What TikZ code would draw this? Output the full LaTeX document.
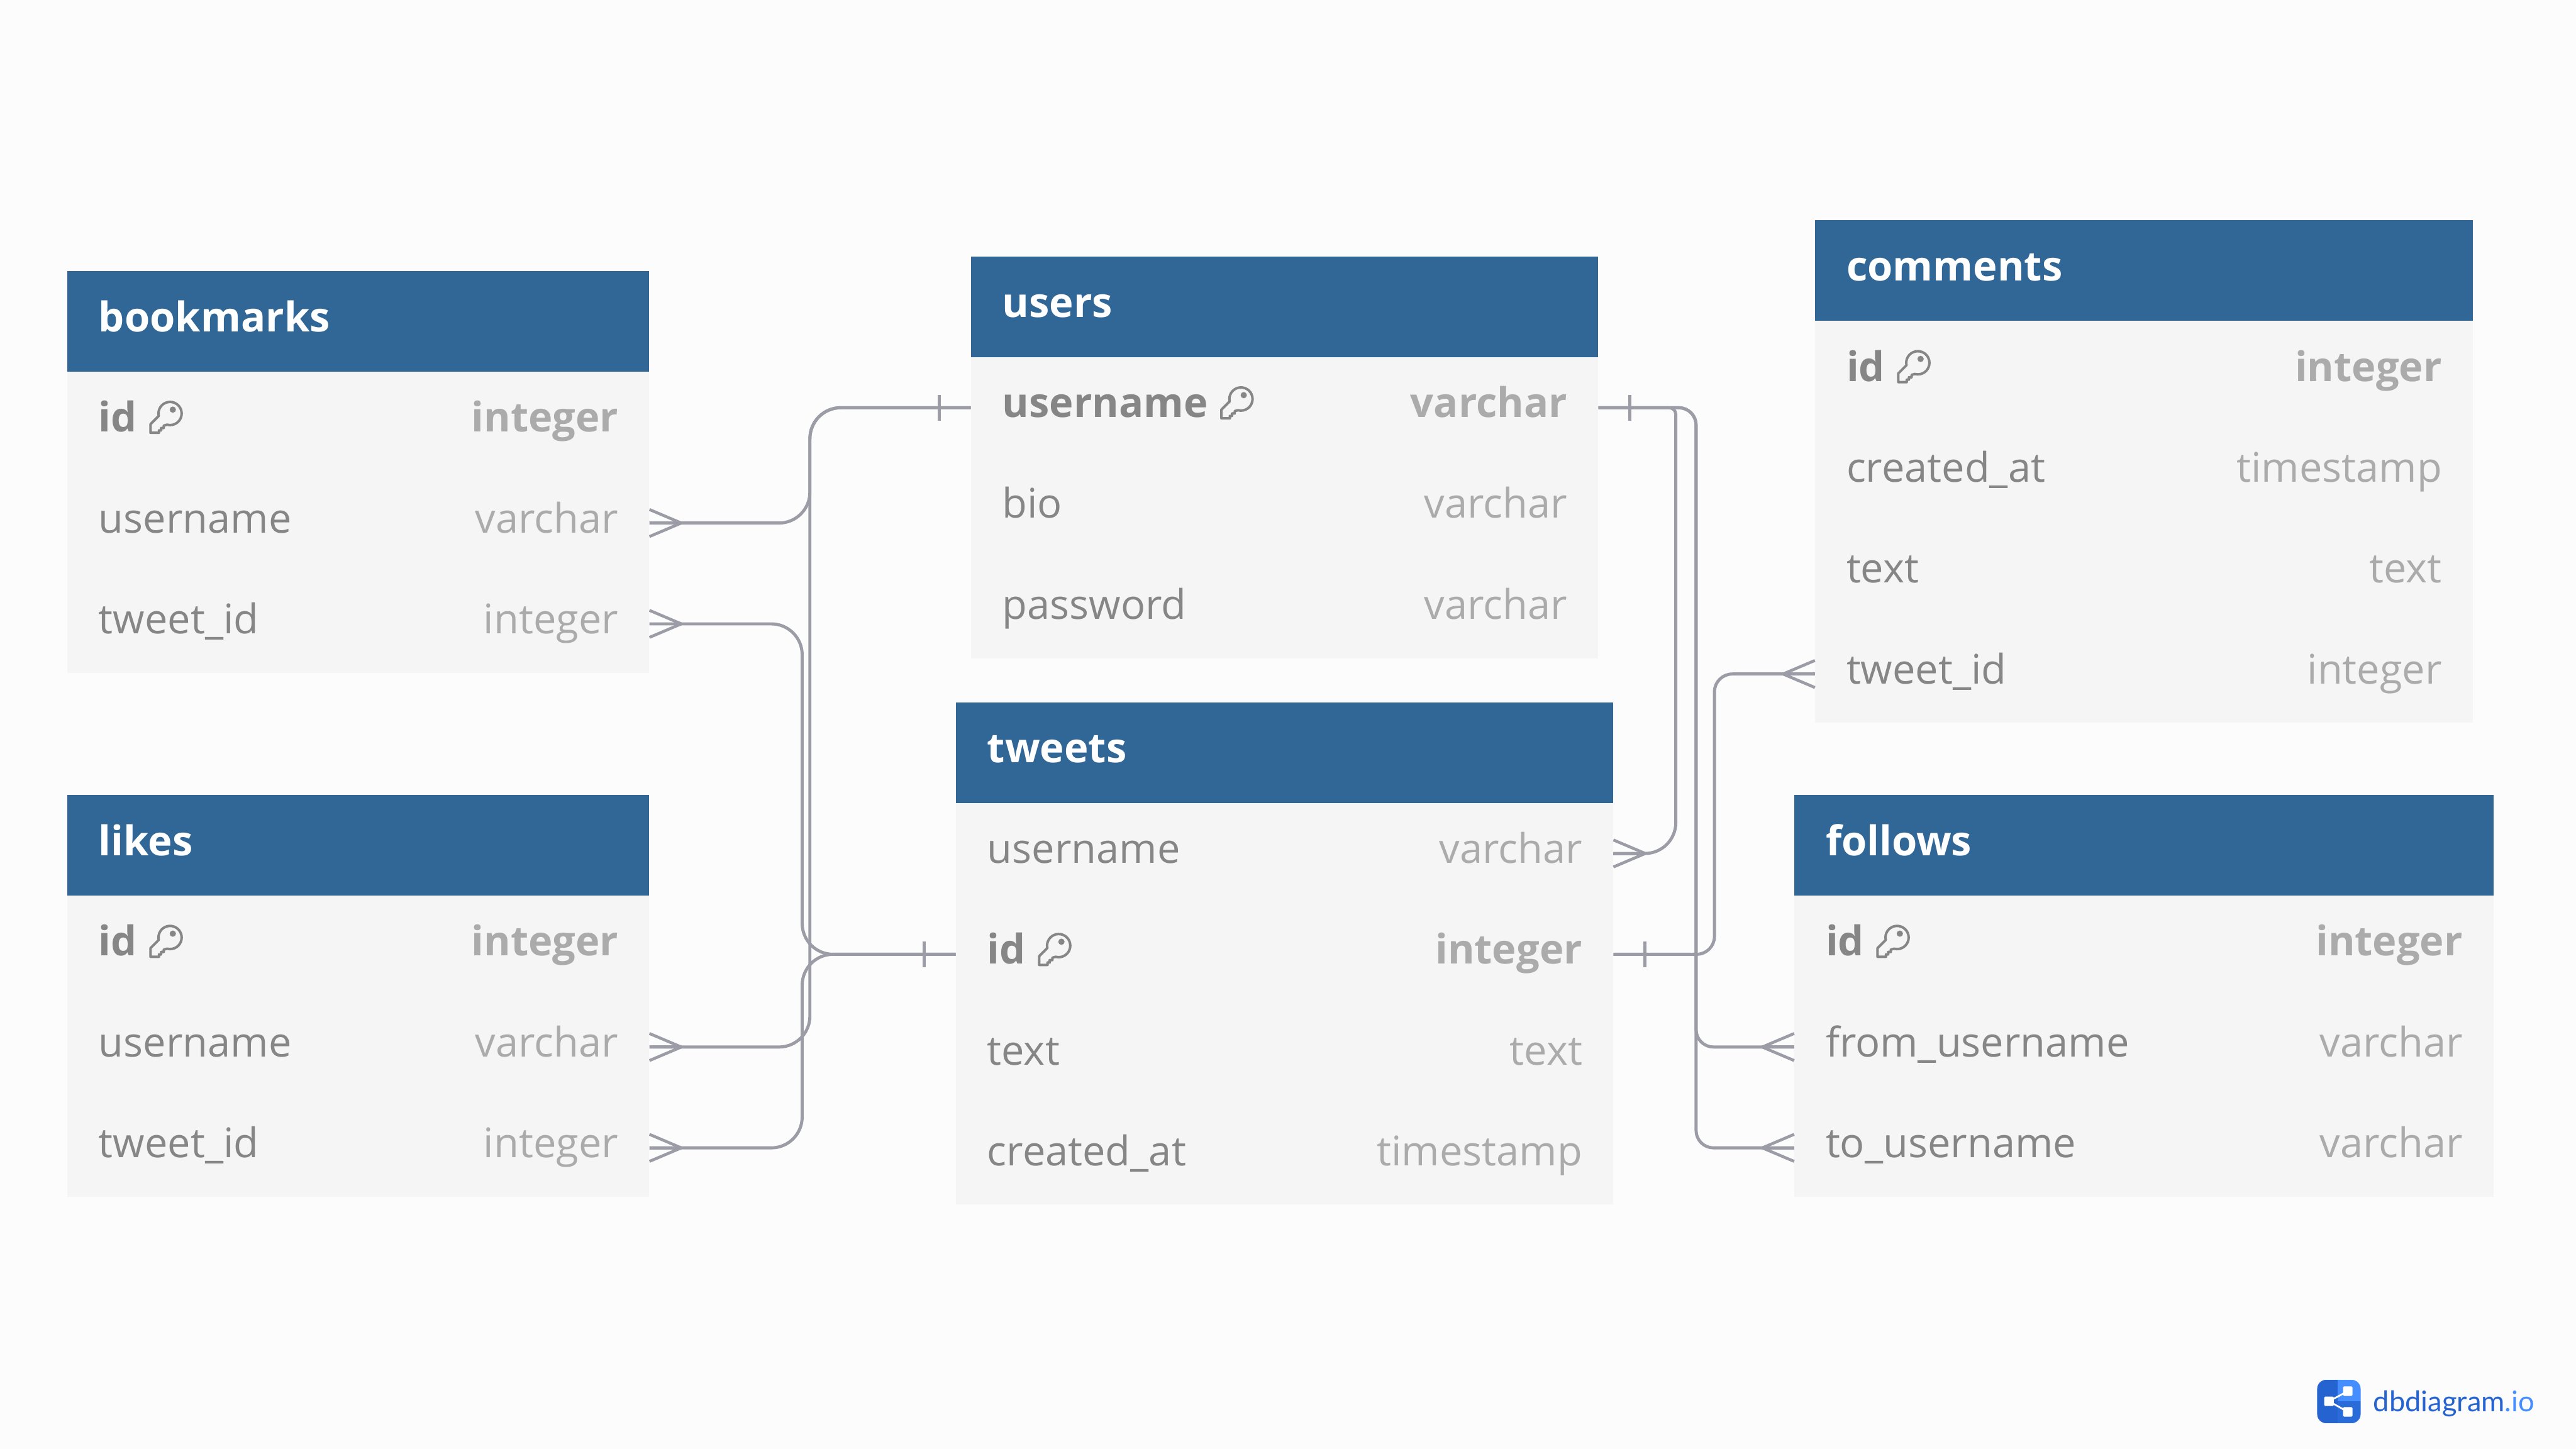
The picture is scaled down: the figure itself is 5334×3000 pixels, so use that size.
\documentclass[tikz,border=0pt]{standalone}
\usepackage{fontspec}
\setmainfont{Open Sans}
\newfontfamily\logofont{Lato}
\definecolor{bgc}{HTML}{FCFCFC}
\definecolor{headc}{HTML}{316796}
\definecolor{bodyc}{HTML}{F5F5F5}
\definecolor{fieldc}{HTML}{868686}
\definecolor{typec}{HTML}{ABABAB}
\definecolor{linec}{HTML}{9B9CA5}
\definecolor{logod}{HTML}{2563D0}
\definecolor{logom}{HTML}{2A6BDA}
\definecolor{logol}{HTML}{458EFF}
\tikzset{
  headbox/.style={fill=headc,draw=none,inner sep=0pt,minimum height=104pt,anchor=north west},
  bodybox/.style={fill=bodyc,draw=none,inner sep=0pt,anchor=north west},
  rowbox/.style={draw=none,fill=none,inner sep=0pt,minimum height=104pt,anchor=north west},
  titletxt/.style={inner sep=0pt,anchor=base west,text=white,font=\fontsize{42.4}{50}\selectfont\bfseries},
  fieldtxt/.style={inner sep=0pt,anchor=base west,text=fieldc,font=\fontsize{42.3}{50}\selectfont},
  typetxt/.style={inner sep=0pt,anchor=base east,text=typec,font=\fontsize{42.3}{50}\selectfont},
  pkfield/.style={fieldtxt,font=\fontsize{42.3}{50}\selectfont\bfseries},
  pktype/.style={typetxt,font=\fontsize{42.3}{50}\selectfont\bfseries},
  rel/.style={draw=linec,line width=3.2pt,line cap=butt,line join=round},
  relmark/.style={draw=linec,line width=3pt,line cap=butt},
  keyicon/.pic={
    \draw[draw=fieldc,line width=2.6pt,line join=round]
      (2.5,48) -- (19.5,31) arc[start angle=168,end angle=465,radius=24]
      -- (30,51) -- (30,56) -- (24.5,56) -- (24.5,61) -- (20,61) -- (20,66) -- (2.5,66) -- cycle;
    \fill[fieldc] (48.7,18) circle[radius=6.5];
  }
}
% table frame: id, x, y, width, title, number of rows
\newcommand{\dbtable}[6]{%
  \def\tw{#4*0.5pt}%
  \node[bodybox,minimum width=\tw,minimum height=#6*104pt] (#1-body) at (#2,#3+208) {};
  \node[headbox,minimum width=\tw] (#1) at (#2,#3) {};
  \node[titletxt] (#1-title) at ([xshift=32.5pt,yshift=-10.5pt]#1.west) {#5};
}
\newcommand{\trow}[4]{%
  \node[rowbox,minimum width=\tw] (#1) at (#2.south west) {};
  \node[fieldtxt] (#1-f) at ([xshift=32.5pt,yshift=-10pt]#1.west) {#3};
  \node[typetxt] (#1-t) at ([xshift=-32pt,yshift=-10pt]#1.east) {#4};
}
\newcommand{\pkrow}[4]{%
  \node[rowbox,minimum width=\tw] (#1) at (#2.south west) {};
  \node[pkfield] (#1-f) at ([xshift=32.5pt,yshift=-10pt]#1.west) {#3};
  \node[pktype] (#1-t) at ([xshift=-32pt,yshift=-10pt]#1.east) {#4};
  \pic at ([xshift=12.5pt,yshift=32pt]#1-f.base east) {keyicon};
}
% crow foot: anchor on table edge, horizontal sign
\newcommand{\crow}[2]{%
  \draw[relmark] ([xshift=#2*33pt,yshift=0pt]#1) -- ([yshift=14pt]#1);
  \draw[relmark] ([xshift=#2*33pt,yshift=0pt]#1) -- ([yshift=-14pt]#1);
  \draw[rel] (#1) -- ([xshift=#2*33pt]#1);
}
\newcommand{\onebar}[2]{%
  \draw[relmark] ([xshift=#2*32.5pt,yshift=13.5pt]#1) -- ([xshift=#2*32.5pt,yshift=-13.5pt]#1);
}
\begin{document}
\begin{tikzpicture}[x=0.5pt,y=-0.5pt]
\useasboundingbox (0,0) rectangle (5334,3000);
\fill[bgc] (0,0) rectangle (5334,3000);

% bookmarks
\dbtable{bm}{139}{561}{1205}{bookmarks}{3}
\pkrow{bm-id}{bm}{id}{integer}
\trow{bm-username}{bm-id}{username}{varchar}
\trow{bm-tweet}{bm-username}{tweet\_id}{integer}

% likes
\dbtable{lk}{139}{1646}{1205}{likes}{3}
\pkrow{lk-id}{lk}{id}{integer}
\trow{lk-username}{lk-id}{username}{varchar}
\trow{lk-tweet}{lk-username}{tweet\_id}{integer}

% users
\dbtable{us}{2010}{531}{1299}{users}{3}
\pkrow{us-username}{us}{username}{varchar}
\trow{us-bio}{us-username}{bio}{varchar}
\trow{us-password}{us-bio}{password}{varchar}

% tweets
\dbtable{tw}{1979}{1454}{1361}{tweets}{4}
\trow{tw-username}{tw}{username}{varchar}
\pkrow{tw-id}{tw-username}{id}{integer}
\trow{tw-text}{tw-id}{text}{text}
\trow{tw-created}{tw-text}{created\_at}{timestamp}

% comments
\dbtable{cm}{3758}{456}{1362}{comments}{4}
\pkrow{cm-id}{cm}{id}{integer}
\trow{cm-created}{cm-id}{created\_at}{timestamp}
\trow{cm-text}{cm-created}{text}{text}
\trow{cm-tweet}{cm-text}{tweet\_id}{integer}

% follows
\dbtable{fl}{3715}{1646}{1448}{follows}{3}
\pkrow{fl-id}{fl}{id}{integer}
\trow{fl-from}{fl-id}{from\_username}{varchar}
\trow{fl-to}{fl-from}{to\_username}{varchar}

% routing channels
\coordinate (chA) at (1677,0);
\coordinate (chB) at (1661,0);
\coordinate (chC) at (3470,0);
\coordinate (chD) at (3512,0);
\coordinate (chE) at (3550,0);

% connectors
\draw[rel,rounded corners=32pt] (bm-username.east) -- (chA |- bm-username.east) -- (chA |- us-username.west) -- (us-username.west);
\draw[rel,rounded corners=32pt] (lk-username.east) -- (chA |- lk-username.east) -- (chA |- us-username.west) -- (us-username.west);
\draw[rel,rounded corners=32pt] (bm-tweet.east) -- (chB |- bm-tweet.east) -- (chB |- tw-id.west) -- (tw-id.west);
\draw[rel,rounded corners=32pt] (lk-tweet.east) -- (chB |- lk-tweet.east) -- (chB |- tw-id.west) -- (tw-id.west);
\draw[rel] (us-username.east) [rounded corners=7pt] -- (chC |- us-username.east) [rounded corners=32pt] -- (chC |- tw-username.east) -- (tw-username.east);
\draw[rel,rounded corners=18pt] (us-username.east) -- (chD |- us-username.east) -- (chD |- fl-from.west) -- (fl-from.west);
\draw[rel,rounded corners=18pt] (us-username.east) -- (chD |- us-username.east) -- (chD |- fl-to.west) -- (fl-to.west);
\draw[rel,rounded corners=18.5pt] (tw-id.east) -- (chE |- tw-id.east) -- (chE |- cm-tweet.west) -- (cm-tweet.west);

% many ends
\crow{bm-username.east}{1}
\crow{bm-tweet.east}{1}
\crow{lk-username.east}{1}
\crow{lk-tweet.east}{1}
\crow{tw-username.east}{1}
\crow{cm-tweet.west}{-1}
\crow{fl-from.west}{-1}
\crow{fl-to.west}{-1}
% one ends
\onebar{us-username.west}{-1}
\onebar{us-username.east}{1}
\onebar{tw-id.west}{-1}
\onebar{tw-id.east}{1}

% logo
\begin{scope}
  \clip[rounded corners=9.5pt] (4798,2857) rectangle (4888,2947);
  \fill[logod] (4798,2857) rectangle (4841,2947);
  \fill[logol] (4841,2857) rectangle (4888,2902);
  \fill[logom] (4841,2902) rectangle (4888,2947);
\end{scope}
\coordinate (lgA) at (4822.5,2901.5);
\coordinate (lgB) at (4861.5,2880.5);
\coordinate (lgC) at (4861.5,2923.5);
\draw[white,line width=1.8pt] (lgB) -- (lgA) -- (lgC);
\node[fill=white,minimum size=9.8pt,inner sep=0pt,rounded corners=1pt] (lgsa) at (lgA) {};
\node[fill=white,minimum size=9.8pt,inner sep=0pt,rounded corners=1pt] (lgsb) at (lgB) {};
\node[fill=white,minimum size=9.8pt,inner sep=0pt,rounded corners=1pt] (lgsc) at (lgC) {};
\node[inner sep=0pt,anchor=base west,font=\logofont\fontsize{29.5}{35}\selectfont] (lgt) at (4914,2923)
  {\textcolor{logod}{dbdiagram}\textcolor{logol}{.io}};
\end{tikzpicture}
\end{document}
